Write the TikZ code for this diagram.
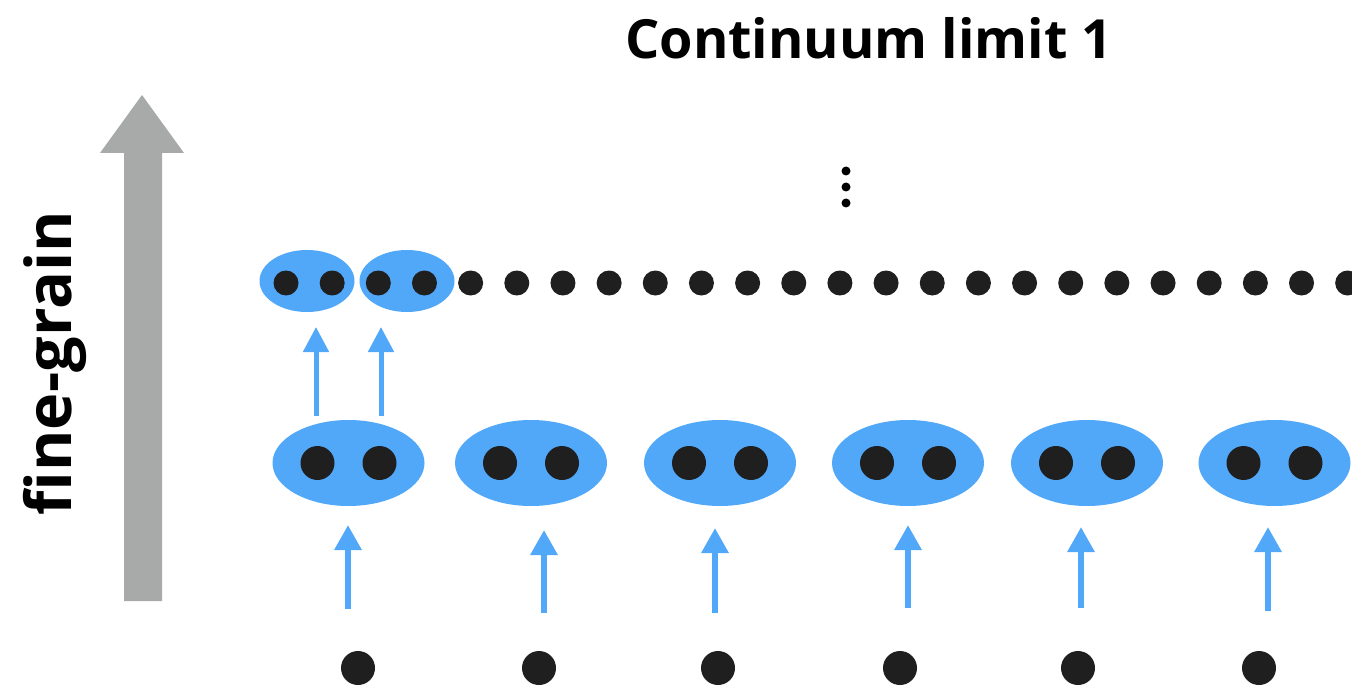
\documentclass[tikz,border=0pt]{standalone}
\usepackage{fontspec}
\setmainfont{Open Sans}
\usetikzlibrary{shapes.geometric,arrows.meta}
\definecolor{pairblue}{RGB}{82,168,248}
\definecolor{dotblack}{RGB}{31,31,31}
\definecolor{axisgray}{RGB}{167,170,169}
\tikzset{
  smalldot/.style={circle,fill=dotblack,inner sep=0pt,minimum size=25pt},
  bigdot/.style={circle,fill=dotblack,inner sep=0pt,minimum size=34pt},
  smallpair/.style={ellipse,fill=pairblue,inner sep=0pt,minimum width=95pt,minimum height=62pt},
  bigpair/.style={ellipse,fill=pairblue,inner sep=0pt,minimum width=152pt,minimum height=86pt},
  finearrow/.style={draw=pairblue,line width=5pt,-{Triangle[length=25pt,width=25pt]}},
  steparrow/.style={draw=pairblue,line width=6pt,-{Triangle[length=25pt,width=26pt]}},
  vdot/.style={circle,fill=black,inner sep=0pt,minimum size=9pt}
}
\begin{document}
\begin{tikzpicture}[x=1pt,y=-1pt]
\useasboundingbox (0,0) rectangle (1352,687);

% title
\node[anchor=base,font=\bfseries\fontsize{54}{58}\selectfont] (title) at (869,59) {Continuum limit 1};

% fine-graining axis
\fill[axisgray] (124,601) -- (124,153) -- (100,153) -- (142,95) -- (184,153) -- (162,153) -- (162,601) -- cycle;
\node[rotate=90,anchor=base,font=\bfseries\fontsize{63}{66}\selectfont] (axislabel) at (71,363) {fine-grain};

% continuation of the hierarchy
\node[vdot] (v1) at (846,171) {};
\node[vdot] (v2) at (846,187) {};
\node[vdot] (v3) at (846,203) {};

% finest level: two blocked pairs, then single sites
\node[smallpair] (p1) at (307,281) {};
\node[smallpair] (p2) at (407,281) {};
\foreach \k in {0,...,23} {
  \node[smalldot] (t\k) at ({286+46.16*\k},283) {};
}

% middle level: pairs of sites
\foreach \c [count=\i] in {348.5,531,720,908,1087,1274.5} {
  \node[bigpair] (m\i) at (\c,463) {};
  \node[bigdot] (ml\i) at (\c-31,463) {};
  \node[bigdot] (mr\i) at (\c+31,463) {};
}

% coarse level: single sites
\foreach \x [count=\i] in {358,539,718,900,1078,1259} {
  \node[bigdot] (b\i) at (\x,668) {};
}

% arrows from middle pairs to finer pairs
\coordinate (fa1) at (316,416); \coordinate (fb1) at (316,327);
\coordinate (fa2) at (381,416); \coordinate (fb2) at (381,327);
\draw[finearrow] (fa1) -- (fb1);
\draw[finearrow] (fa2) -- (fb2);

% arrows from coarse sites to middle pairs
\foreach \x/\lo/\hi [count=\i] in {348/609/525,544/613/530,715/613/528,908/608/525,1081/608/527,1268/611/527} {
  \coordinate (sa\i) at (\x,\lo);
  \coordinate (sb\i) at (\x,\hi);
  \draw[steparrow] (sa\i) -- (sb\i);
}
\end{tikzpicture}
\end{document}
